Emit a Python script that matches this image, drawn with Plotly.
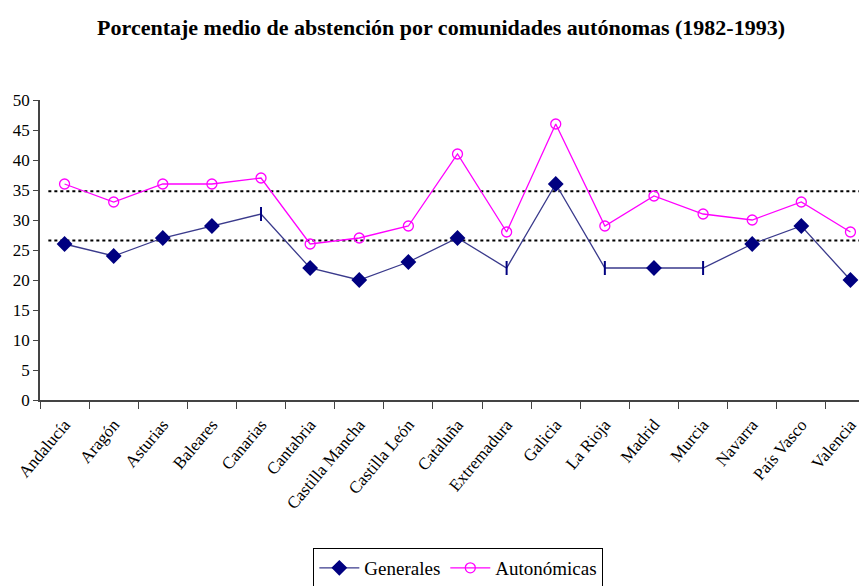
import plotly.graph_objects as go

categorias = ["Andalucía", "Aragón", "Asturias", "Baleares", "Canarias", "Cantabria",
              "Castilla Mancha", "Castilla León", "Cataluña", "Extremadura", "Galicia",
              "La Rioja", "Madrid", "Murcia", "Navarra", "País Vasco", "Valencia"]
generales = [26, 24, 27, 29, 31, 22, 20, 23, 27, 22, 36, 22, 22, 22, 26, 29, 20]
autonomicas = [36, 33, 36, 36, 37, 26, 27, 29, 41, 28, 46, 29, 34, 31, 30, 33, 28]
medias_referencia = [34.8, 26.6]
y_ticks = list(range(0, 51, 5))

# per-point marker symbols for Generales (some points drawn as bars in the original)
gen_symbols = ["diamond", "diamond", "diamond", "diamond", "line-ns", "diamond", "diamond",
               "diamond", "diamond", "line-ns", "diamond", "line-ns", "diamond", "line-ns",
               "diamond", "diamond", "diamond"]

serif = "Liberation Serif, Times New Roman, serif"

fig = go.Figure()
fig.add_trace(go.Scatter(
    x=categorias, y=generales, name="Generales", mode="lines+markers",
    line=dict(color="#3a3a8c", width=1.3),
    marker=dict(symbol=gen_symbols, size=10, color="#000080",
                line=dict(color="#000080", width=2)),
))
fig.add_trace(go.Scatter(
    x=categorias, y=autonomicas, name="Autonómicas", mode="lines+markers",
    line=dict(color="#ff00ff", width=1.3),
    marker=dict(symbol="circle-open", size=10, color="#ff00ff",
                line=dict(color="#ff00ff", width=1.3)),
))

for v in medias_referencia:
    fig.add_shape(type="line", xref="paper", x0=0.01, x1=0.99, yref="y", y0=v, y1=v,
                  line=dict(color="black", width=2, dash="dot"), layer="below")

fig.update_layout(
    width=867, height=578,
    margin=dict(l=32, r=0, t=92, b=186, pad=0, autoexpand=False),
    paper_bgcolor="white", plot_bgcolor="white",
    font=dict(family=serif, size=16, color="black"),
    title=dict(text="<b>Porcentaje medio de abstención por comunidades autónomas (1982-1993)</b>",
               x=0.4995, xanchor="center", y=0.967, yanchor="middle",
               xref="container",
               font=dict(family=serif, size=22, color="black")),
    showlegend=True,
    legend=dict(orientation="h", x=0.501, xanchor="center", y=-0.56, yanchor="middle",
                bordercolor="black", borderwidth=1, font=dict(family=serif, size=19),
                itemwidth=40, tracegroupgap=0),
)
fig.update_xaxes(
    type="category", showline=True, linecolor="#444", linewidth=2,
    ticks="outside", tickson="boundaries", ticklen=7, tickcolor="#444",
    tickangle=-50, tickfont=dict(family=serif, size=17), automargin=False,
    ticklabelstandoff=6,
    showgrid=False, range=[-0.5, len(categorias) - 0.5],
)
fig.update_yaxes(
    range=[0, 50], tickvals=y_ticks, showline=True, linecolor="#444", linewidth=1.5,
    ticks="outside", ticklen=5, tickcolor="#444", showgrid=False, zeroline=False,
    tickfont=dict(family=serif, size=17), automargin=False,
)

fig.write_html("out.html")
